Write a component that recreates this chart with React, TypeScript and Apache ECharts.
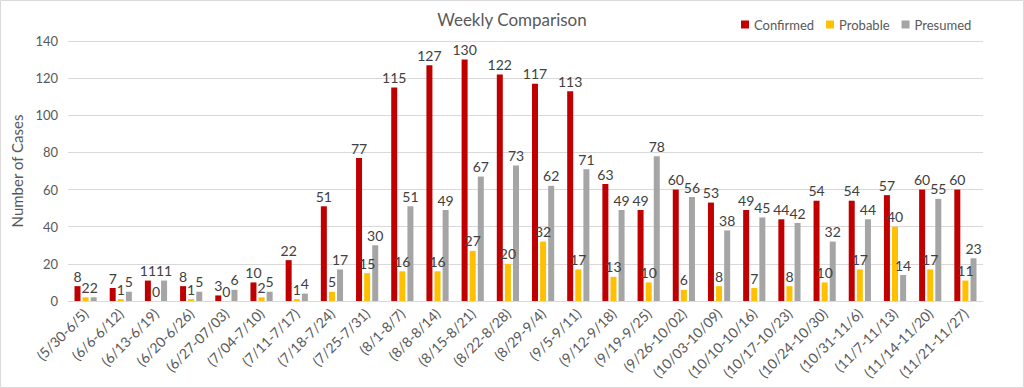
import React, { useEffect, useRef } from "react";
import * as echarts from "echarts";

const categories = [
  "(5/30-6/5)", "(6/6-6/12)", "(6/13-6/19)", "(6/20-6/26)", "(6/27-07/03)", "(7/04-7/10)",
  "(7/11-7/17)", "(7/18-7/24)", "(7/25-7/31)", "(8/1-8/7)", "(8/8-8/14)", "(8/15-8/21)",
  "(8/22-8/28)", "(8/29-9/4)", "(9/5-9/11)", "(9/12-9/18)", "(9/19-9/25)", "(9/26-10/02)",
  "(10/03-10/09)", "(10/10-10/16)", "(10/17-10/23)", "(10/24-10/30)", "(10/31-11/6)",
  "(11/7-11/13)", "(11/14-11/20)", "(11/21-11/27)",
];
const confirmed = [8, 7, 11, 8, 3, 10, 22, 51, 77, 115, 127, 130, 122, 117, 113, 63, 49, 60, 53, 49, 44, 54, 54, 57, 60, 60];
const probable = [2, 1, 0, 1, 0, 2, 1, 5, 15, 16, 16, 27, 20, 32, 17, 13, 10, 6, 8, 7, 8, 10, 17, 40, 17, 11];
const presumed = [2, 5, 11, 5, 6, 5, 4, 17, 30, 51, 49, 67, 73, 62, 71, 49, 78, 56, 38, 45, 42, 32, 44, 14, 55, 23];
const seriesNames = ["Confirmed", "Probable", "Presumed"];
const colors = ["#C00000", "#FFC000", "#A5A5A5"];
const yTicks = { min: 0, max: 140, interval: 20 };

const FONT = "Lato, 'Open Sans', sans-serif";

export default function App() {
  const ref = useRef<HTMLDivElement>(null);
  useEffect(() => {
    if (!ref.current) return;
    const chart = echarts.init(ref.current, null, { renderer: "svg" });
    const values = [confirmed, probable, presumed];
    chart.setOption({
      animation: false,
      backgroundColor: "#ffffff",
      textStyle: { fontFamily: FONT },
      title: {
        text: "Weekly Comparison",
        left: "center",
        top: 6,
        textStyle: { fontFamily: FONT, fontSize: 17, fontWeight: "normal", color: "#595959" },
      },
      legend: {
        data: seriesNames,
        top: 13,
        left: 736,
        itemWidth: 8,
        itemHeight: 8,
        itemGap: 12,
        icon: "rect",
        textStyle: { fontFamily: FONT, fontSize: 13, color: "#595959" },
      },
      graphic: [
        {
          type: "rect",
          shape: { x: 0.5, y: 0.5, width: 1023, height: 387 },
          style: { fill: "none", stroke: "#d9d9d9", lineWidth: 1 },
          silent: true,
        },
      ],
      grid: { left: 68, right: 41, top: 41, bottom: 87, containLabel: false },
      xAxis: {
        type: "category",
        data: categories,
        axisLine: { lineStyle: { color: "#d9d9d9" } },
        axisTick: { show: false },
        axisLabel: {
          rotate: 45,
          interval: 0,
          margin: 10,
          fontFamily: FONT,
          fontSize: 14,
          color: "#595959",
        },
      },
      yAxis: {
        type: "value",
        min: yTicks.min,
        max: yTicks.max,
        interval: yTicks.interval,
        name: "Number of Cases",
        nameLocation: "middle",
        nameGap: 37,
        nameTextStyle: { fontFamily: FONT, fontSize: 15, color: "#595959" },
        axisLine: { show: false },
        axisTick: { show: false },
        axisLabel: { fontFamily: FONT, fontSize: 13, color: "#595959", margin: 10 },
        splitLine: { lineStyle: { color: "#d9d9d9" } },
      },
      series: seriesNames.map((name, i) => ({
        name,
        type: "bar",
        data: values[i],
        barWidth: 6,
        barGap: "35%",
        itemStyle: { color: colors[i] },
        label: {
          show: true,
          position: "top",
          distance: 3,
          fontFamily: FONT,
          fontSize: 14,
          color: "#404040",
        },
      })),
    });
    return () => chart.dispose();
  }, []);
  return (
    <div
      ref={ref}
      style={{ position: "fixed", left: 0, top: 0, width: 1024, height: 388 }}
    />
  );
}
